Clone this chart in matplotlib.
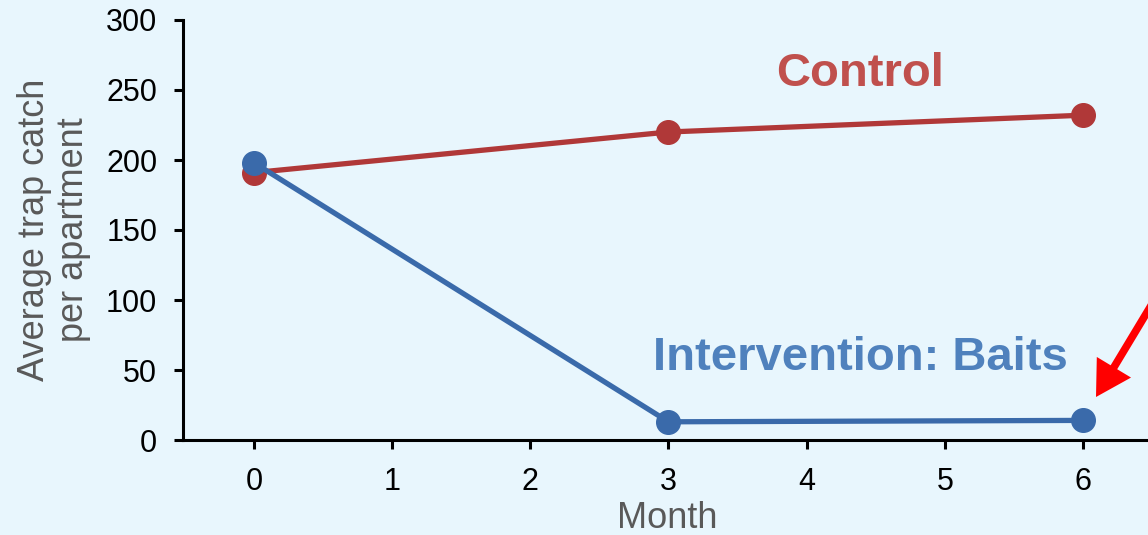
import matplotlib
matplotlib.use("Agg")
import matplotlib.pyplot as plt

plt.rcParams['font.family'] = ['Liberation Sans', 'DejaVu Sans']

# data
months = [0, 3, 6]
control = [191, 220, 232]
baits = [198, 13, 14]
xticks = [0, 1, 2, 3, 4, 5, 6]
yticks = [0, 50, 100, 150, 200, 250, 300]

bg = '#e8f6fd'
red_line = '#b03838'
blue_line = '#3a6aaa'
red_text = '#c0504d'
blue_text = '#4f81bd'
grey = '#595959'

fig = plt.figure(figsize=(11.48, 5.35), dpi=100, facecolor=bg)
ax = fig.add_axes([183 / 1148, 1 - 440 / 535, (1152 - 183) / 1148, 420 / 535])
ax.set_facecolor(bg)

ax.plot(months, control, color=red_line, lw=3.8, marker='o', markersize=17,
        solid_capstyle='round', clip_on=False, zorder=3)
ax.plot(months, baits, color=blue_line, lw=3.8, marker='o', markersize=17,
        solid_capstyle='round', clip_on=False, zorder=4)

ax.set_xlim(-0.514, 6.5)
ax.set_ylim(0, 300)
ax.set_xticks(xticks)
ax.set_yticks(yticks)

for s in ['top', 'right']:
    ax.spines[s].set_visible(False)
for s in ['left', 'bottom']:
    ax.spines[s].set_linewidth(2.2)
    ax.spines[s].set_color('black')

ax.tick_params(axis='both', direction='out', length=6.5, width=2.2, labelsize=22,
               colors='black')
ax.tick_params(axis='y', pad=12)
ax.tick_params(axis='x', pad=13)

ax.set_xlabel('Month', fontsize=26, color=grey, labelpad=3)
ax.set_ylabel('Average trap catch\nper apartment', fontsize=26, color=grey,
              labelpad=11, linespacing=1.15)

ax.text(4.39, 253, 'Control', color=red_text, fontsize=34, fontweight='bold',
        ha='center', va='baseline')
ax.text(4.39, 50, 'Intervention: Baits', color=blue_text, fontsize=34,
        fontweight='bold', ha='center', va='baseline')

# red pointer arrow coming in from the right edge
ax.annotate('', xy=(1096, 138), xycoords='figure pixels',
            xytext=(1199, 309), textcoords='figure pixels',
            annotation_clip=False,
            arrowprops=dict(arrowstyle='simple,head_length=1.0,head_width=1.15,tail_width=0.22',
                            mutation_scale=25, color='#ff0000', lw=0,
                            shrinkA=0, shrinkB=0))

fig.savefig('out.png', dpi=100, facecolor=bg)
